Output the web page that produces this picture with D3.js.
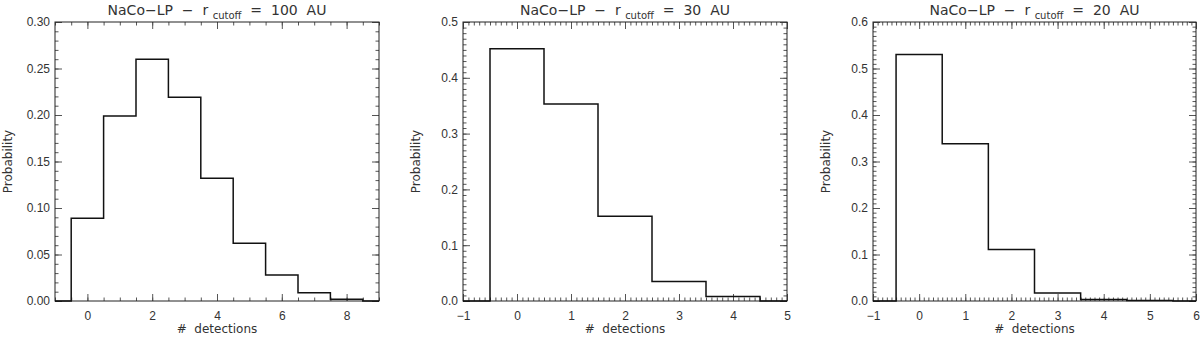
<!DOCTYPE html>
<html>
<head>
<meta charset="utf-8">
<script src="https://cdn.jsdelivr.net/npm/d3@7"></script>
<style>
  body { margin: 0; background: #fff; }
  svg { display: block; font-family: "DejaVu Sans", sans-serif; }
  .tick text { font-size: 12px; fill: #333; }
</style>
</head>
<body>
<div id="chart"></div>
<script>
// detection counts (bin centres) and probabilities
const detections100 = [0, 1, 2, 3, 4, 5, 6, 7, 8];
const prob100 = [0.089, 0.199, 0.260, 0.219, 0.132, 0.062, 0.028, 0.009, 0.002];

const detections30 = [0, 1, 2, 3, 4];
const prob30 = [0.452, 0.353, 0.152, 0.035, 0.008];

const detections20 = [0, 1, 2, 3, 4, 5];
const prob20 = [0.530, 0.338, 0.111, 0.017, 0.003, 0.001];

const cutoffs = ["100", "30", "20"];

// labelled x ticks per panel
const xTicks100 = [0, 2, 4, 6, 8];
const xTicks30 = [-1, 0, 1, 2, 3, 4, 5];
const xTicks20 = [-1, 0, 1, 2, 3, 4, 5, 6];

let svgWidth = 1200, svgHeight = 339;

let svg = d3.select("#chart")
    .append("svg")
        .attr("width", svgWidth)
        .attr("height", svgHeight);

let panels = [
    {cut: cutoffs[0], xs: detections100, ps: prob100, left: 55, right: 379,
     xDom: [-1, 9], xMaj: xTicks100, xMinor: 0.5, yMax: 0.30, yMajor: 0.05, yMinor: 0.01, yFmt: ".2f"},
    {cut: cutoffs[1], xs: detections30, ps: prob30, left: 463, right: 787,
     xDom: [-1, 5], xMaj: xTicks30, xMinor: 0.1, yMax: 0.5, yMajor: 0.1, yMinor: 0.01, yFmt: ".1f"},
    {cut: cutoffs[2], xs: detections20, ps: prob20, left: 873, right: 1196,
     xDom: [-1, 6], xMaj: xTicks20, xMinor: 0.1, yMax: 0.6, yMajor: 0.1, yMinor: 0.01, yFmt: ".1f"}
];

let plotTop = 22, plotBottom = 301;

function steps(a, b, s) {
    // tick positions, rounded to avoid float drift
    return d3.range(Math.round((b - a) / s) + 1).map(i => +(a + i * s).toFixed(4));
}

panels.forEach(p => {
    let g = svg.append("g");
    let w = p.right - p.left, h = plotBottom - plotTop;

    let x = d3.scaleLinear().domain(p.xDom).range([p.left, p.right]);
    let y = d3.scaleLinear().domain([0, p.yMax]).range([plotBottom, plotTop]);

    let xMaj = p.xMaj;
    let xMin = steps(p.xDom[0], p.xDom[1], p.xMinor);
    let yMaj = steps(0, p.yMax, p.yMajor);
    let yMin = steps(0, p.yMax, p.yMinor);

    // bottom axis with labels, ticks pointing inward
    let bx = g.append("g")
        .attr("transform", `translate(0,${plotBottom})`)
        .call(d3.axisBottom(x).tickValues(xMaj).tickSize(-7).tickPadding(10)
            .tickFormat(d3.format("d")));
    bx.append("g").call(d3.axisBottom(x).tickValues(xMin).tickSize(-3.5).tickFormat(""));

    // top mirror
    let tx = g.append("g")
        .attr("transform", `translate(0,${plotTop})`)
        .call(d3.axisTop(x).tickValues(xMaj).tickSize(-7).tickFormat(""));
    tx.append("g").call(d3.axisTop(x).tickValues(xMin).tickSize(-3.5).tickFormat(""));

    // left axis with labels
    let ly = g.append("g")
        .attr("transform", `translate(${p.left},0)`)
        .call(d3.axisLeft(y).tickValues(yMaj).tickSize(-7).tickPadding(5)
            .tickFormat(d3.format(p.yFmt)));
    ly.append("g").call(d3.axisLeft(y).tickValues(yMin).tickSize(-3.5).tickFormat(""));

    // right mirror
    let ry = g.append("g")
        .attr("transform", `translate(${p.right},0)`)
        .call(d3.axisRight(y).tickValues(yMaj).tickSize(-7).tickFormat(""));
    ry.append("g").call(d3.axisRight(y).tickValues(yMin).tickSize(-3.5).tickFormat(""));

    g.selectAll(".domain").remove();
    g.selectAll(".tick line").attr("stroke", "#555").attr("stroke-width", 1);

    g.append("rect")
        .attr("x", p.left).attr("y", plotTop)
        .attr("width", w).attr("height", h)
        .attr("fill", "none")
        .attr("stroke", "#222")
        .attr("stroke-width", 1);

    // histogram outline as a step line
    let pts = [[p.xDom[0], 0]]
        .concat(p.xs.map((d, i) => [d - 0.5, p.ps[i]]))
        .concat([[p.xs[p.xs.length - 1] + 0.5, 0], [p.xDom[1], 0]]);

    let line = d3.line()
        .x(d => x(d[0]))
        .y(d => y(d[1]))
        .curve(d3.curveStepAfter);

    g.append("path")
        .datum(pts)
        .attr("fill", "none")
        .attr("stroke", "#111")
        .attr("stroke-width", 1.5)
        .attr("d", line);

    // title
    let cx = (p.left + p.right) / 2;
    let t = g.append("text")
        .attr("x", cx)
        .attr("y", 15)
        .attr("text-anchor", "middle")
        .attr("font-size", 14)
        .attr("fill", "#333")
        .style("white-space", "pre");
    t.append("tspan").text("NaCo\u2212LP  \u2212  r ");
    t.append("tspan").attr("font-size", 10).attr("dy", 4).text("cutoff");
    t.append("tspan").attr("dy", -4).text("  =  " + p.cut + "  AU");

    // axis titles
    g.append("text")
        .attr("x", cx)
        .attr("y", 333)
        .attr("text-anchor", "middle")
        .attr("font-size", 12)
        .attr("fill", "#333")
        .style("white-space", "pre")
        .text("#  detections");

    g.append("text")
        .attr("transform", `translate(${p.left - 43},${(plotTop + plotBottom) / 2}) rotate(-90)`)
        .attr("text-anchor", "middle")
        .attr("font-size", 12)
        .attr("fill", "#333")
        .text("Probability");
});
</script>
</body>
</html>
